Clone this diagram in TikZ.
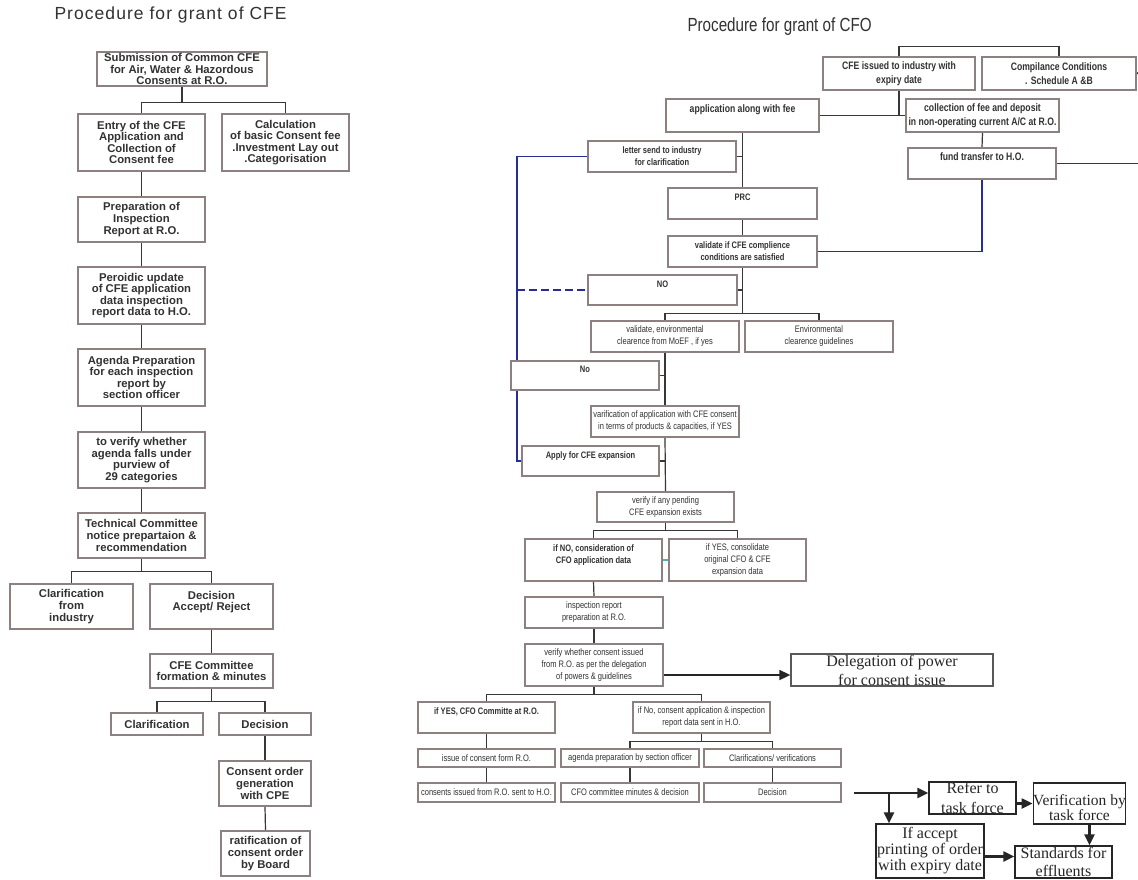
\documentclass[tikz,border=0pt]{standalone}
\usepackage{fontspec}
\setmainfont{Liberation Sans}
\newfontfamily\narrowfont[FakeStretch=0.8]{Liberation Sans}
\newfontfamily\spacedfont[LetterSpace=6]{Liberation Sans}
\newfontfamily\serifboxfont{Liberation Serif}
\usetikzlibrary{arrows.meta,backgrounds}
\definecolor{boxgray}{RGB}{140,128,128}
\definecolor{txtgray}{RGB}{50,50,50}
\definecolor{linkgray}{RGB}{55,55,55}
\definecolor{navy}{RGB}{40,45,145}
\definecolor{tealline}{RGB}{70,180,190}

\begin{document}
\begin{tikzpicture}[x=1pt, y=-1pt,
        cfebox/.style={draw=boxgray, line width=1.3pt, fill=white, text=txtgray, align=center, inner sep=0pt, font=\bfseries\fontsize{11.3}{11.6}\selectfont},
        cfobox/.style={draw=boxgray, line width=1.2pt, fill=white, text=txtgray, align=center, inner sep=0pt, font=\narrowfont\fontsize{9.4}{12}\selectfont},
        cfobold/.style={cfobox, font=\narrowfont\bfseries\fontsize{9.4}{12}\selectfont},
        cfotop/.style={cfobox, font=\narrowfont\bfseries\fontsize{10.8}{14}\selectfont},
        taskbox/.style={draw=black!85, line width=1.3pt, fill=white, text=black!85, align=center, inner sep=0pt, font=\serifboxfont\fontsize{16}{16}\selectfont},
        link/.style={draw=linkgray, line width=1.2pt},
        bluelink/.style={draw=navy, line width=1.8pt},
        bigarrow/.style={draw=black!85, line width=2.2pt, -{Triangle[length=11pt,width=10pt]}},
    ]
        \useasboundingbox (0,0) rectangle (1138,879);

        % CFE side
        \node[anchor=west, text=txtgray, font=\spacedfont\fontsize{17.5}{20}\selectfont] (cfetitle) at (51,15) {Procedure for grant of CFE};
        \node[cfebox, minimum width=170, minimum height=34] (submit) at (182,69) {Submission of Common CFE\\for Air, Water \& Hazordous\\Consents at R.O.};
        \node[cfebox, minimum width=127, minimum height=57] (entry) at (141.5,142.5) {Entry of the CFE\\Application and\\Collection of\\Consent fee};
        \node[cfebox, minimum width=127, minimum height=57] (calc) at (285.5,142.5) {Calculation\\of basic Consent fee\\.Investment Lay out\\.Categorisation};
        \node[cfebox, minimum width=127, minimum height=45] (prep) at (141.5,219.5) {Preparation of\\Inspection\\Report at R.O.};
        \node[cfebox, minimum width=127, minimum height=57] (update) at (141.5,295.5) {Peroidic update\\of CFE application\\data inspection\\report data to H.O.};
        \node[cfebox, minimum width=127, minimum height=57] (agenda) at (141.5,377.5) {Agenda Preparation\\for each inspection\\report by\\section officer};
        \node[cfebox, minimum width=127, minimum height=56] (verify) at (141.5,460) {to verify whether\\agenda falls under\\purview of\\29 categories};
        \node[cfebox, minimum width=127, minimum height=45] (techcom) at (141.5,535.5) {Technical Committee\\notice prepartaion \&\\recommendation};
        \node[cfebox, minimum width=123, minimum height=45] (clarind) at (71.5,606.5) {Clarification\\from\\industry};
        \node[cfebox, minimum width=123, minimum height=45] (decision) at (211.5,606.5) {Decision\\Accept/ Reject\\\phantom{X}};
        \node[cfebox, minimum width=123, minimum height=34] (cfecom) at (211.5,671) {CFE Committee\\formation \& minutes};
        \node[cfebox, minimum width=92, minimum height=22] (clarif) at (157,724) {Clarification};
        \node[cfebox, minimum width=92, minimum height=22] (decide) at (265,724) {Decision};
        \node[cfebox, minimum width=92, minimum height=45] (order) at (265,783.5) {Consent order\\generation\\with CPE};
        \node[cfebox, minimum width=89, minimum height=45] (ratify) at (265.5,853.5) {ratification of\\consent order\\by Board};

        % CFO side
        \node[anchor=west, text=txtgray, font=\narrowfont\fontsize{19}{22}\selectfont] (cfotitle) at (684,27) {Procedure for grant of CFO};
        \node[cfotop, minimum width=152, minimum height=33] (issued) at (899,73.5) {CFE issued to industry with\\expiry date};
        \node[cfotop, minimum width=154, minimum height=33] (comply) at (1059,73.5) {Compilance Conditions\\. Schedule A \&B};
        \node[cfotop, minimum width=153, minimum height=33] (appfee) at (742.5,115.5) {application along with fee\\\phantom{X}};
        \node[cfotop, minimum width=153, minimum height=33] (collect) at (982.5,115.5) {collection of fee and deposit\\in non-operating current A/C at R.O.};
        \node[cfotop, minimum width=148, minimum height=31] (fund) at (982,163.5) {fund transfer to H.O.\\\phantom{X}};
        \node[cfobold, minimum width=148, minimum height=31] (letter) at (662,156.5) {letter send to industry\\for clarification};
        \node[cfobold, minimum width=149, minimum height=31] (prc) at (742.5,203.5) {PRC\\\phantom{X}};
        \node[cfobold, minimum width=149, minimum height=31] (valcfe) at (742.5,251.5) {validate if CFE complience\\conditions are satisfied};
        \node[cfobold, minimum width=149, minimum height=30] (no1) at (662.5,290) {NO\\\phantom{X}};
        \node[cfobox, minimum width=148, minimum height=31] (valenv) at (665,336.5) {validate, environmental\\clearence from MoEF , if yes};
        \node[cfobox, minimum width=148, minimum height=31] (envguide) at (819,336.5) {Environmental\\clearence guidelines};
        \node[cfobold, minimum width=148, minimum height=29] (no2) at (585,375.5) {No\\\phantom{X}};
        \node[cfobox, minimum width=148, minimum height=31] (varif) at (665,421.5) {varification of application with CFE consent\\in terms of products \& capacities, if YES};
        \node[cfobold, minimum width=137, minimum height=30] (apply) at (590.5,461) {Apply for CFE expansion\\\phantom{X}};
        \node[cfobox, minimum width=137, minimum height=30] (pending) at (665.5,507) {verify if any pending\\CFE expansion exists};
        \node[cfobold, minimum width=137, minimum height=42] (ifno) at (593.5,560) {if NO, consideration of\\CFO application data\\\phantom{X}};
        \node[cfobox, minimum width=137, minimum height=42] (ifyes) at (737.5,560) {if YES, consolidate\\original CFO \& CFE\\expansion data};
        \node[cfobox, minimum width=138, minimum height=31] (inspect) at (594,612.5) {inspection report\\preparation at R.O.};
        \node[cfobox, minimum width=138, minimum height=42] (whether) at (594,665) {verify whether consent issued\\from R.O. as per the delegation\\of powers \& guidelines};
        \node[taskbox, draw=black!65, minimum width=202, minimum height=32, font=\serifboxfont\fontsize{16}{19}\selectfont] (deleg) at (892,670) {Delegation of power\\for consent issue};
        \node[cfobold, minimum width=137, minimum height=31] (cfocom) at (486.5,717.5) {if YES, CFO Committe at R.O.\\\phantom{X}};
        \node[cfobox, minimum width=137, minimum height=31] (tohq) at (701.5,717.5) {if No, consent application \& inspection\\report data sent in H.O.};
        \node[cfobox, minimum width=137, minimum height=18] (issue) at (486.5,758) {issue of consent form R.O.};
        \node[cfobox, minimum width=138, minimum height=18] (agendaho) at (630,758) {agenda preparation by section officer};
        \node[cfobox, minimum width=137, minimum height=18] (clarver) at (772.5,758) {Clarifications/ verifications};
        \node[cfobox, minimum width=137, minimum height=19] (issuedho) at (486.5,792.5) {consents issued from R.O. sent to H.O.};
        \node[cfobox, minimum width=138, minimum height=19] (minutes) at (630,792.5) {CFO committee minutes \& decision};
        \node[cfobox, minimum width=137, minimum height=19] (decfinal) at (772.5,792.5) {Decision};

        % task force
        \node[taskbox, minimum width=87, minimum height=32, font=\serifboxfont\fontsize{16}{20}\selectfont] (refer) at (972.5,798) {Refer to\\task force};
        \node[taskbox, minimum width=87, minimum height=41, font=\serifboxfont\fontsize{15.5}{12.5}\selectfont] (verif) at (1079.5,803.5) {\phantom{x}\\Verification by\\task force};
        \node[taskbox, minimum width=108, minimum height=54] (accept) at (930,851) {If accept\\printing of order\\with expiry date};
        \node[taskbox, minimum width=97, minimum height=32, font=\serifboxfont\fontsize{16}{18}\selectfont] (stand) at (1063.5,862) {Standards for\\effluents};

        \coordinate (bluebend) at (517,0);
        \coordinate (rimtop) at (1138,73);
        \coordinate (taskin) at (854,793);
        \coordinate (tasksplit) at (889,793);

        \begin{pgfonlayer}{background}
        \fill[white] (0,0) rectangle (1138,879);
        \draw[link] (submit.south) -- ++(0,16) -| (entry.north);
        \draw[link] (submit.south) -- ++(0,16) -| (calc.north);
        \draw[link] (entry.south) -- (prep.north);
        \draw[link] (prep.south) -- (update.north);
        \draw[link] (update.south) -- (agenda.north);
        \draw[link] (agenda.south) -- (verify.north);
        \draw[link] (verify.south) -- (techcom.north);
        \draw[link] (techcom.south) -- ++(0,13) -| (clarind.north);
        \draw[link] (techcom.south) -- ++(0,13) -| (decision.north);
        \draw[link] (decision.south) -- (cfecom.north);
        \draw[link] (cfecom.south) -- ++(0,13) -| (clarif.north);
        \draw[link] (cfecom.south) -- ++(0,13) -| (decide.north);
        \draw[link] (decide.south) -- (order.north);
        \draw[link] (order.south) -- (ratify.north);

        \draw[link] (issued.north) -- ++(0,-10) -| (comply.north);
        \draw[link] (issued.south) -- (issued.south |- appfee.east);
        \draw[link] (appfee.east) -- (collect.west);
        \draw[link] (collect.south) -- (fund.north);
        \draw[link] (appfee.south) -- (prc.north);
        \draw[link] (letter.east) -- (letter.east -| appfee.south);
        \draw[link] (prc.south) -- (valcfe.north);
        \draw[link] (valcfe.south) -- ++(0,46) -| (valenv.north);
        \draw[link] (valcfe.south) -- ++(0,46) -| (envguide.north);
        \draw[link] (no1.east) -- (no1.east -| valcfe.south);
        \draw[link] (valenv.south) -- (varif.north);
        \draw[link] (no2.east) -- (no2.east -| valenv.south);
        \draw[link] (varif.south) -- (pending.north);
        \draw[link] (apply.east) -- (apply.east -| varif.south);
        \draw[link] (pending.south) -- ++(0,8) -| (ifno.north);
        \draw[link] (pending.south) -- ++(0,8) -| (ifyes.north);
        \draw[draw=tealline, line width=1.2pt] (ifno.east) -- (ifyes.west);
        \draw[link] (ifno.south) -- (inspect.north);
        \draw[link] (inspect.south) -- (whether.north);
        \draw[link] (whether.south) -- ++(0,8) -| (cfocom.north);
        \draw[link] (whether.south) -- ++(0,8) -| (tohq.north);
        \draw[link] (cfocom.south) -- (issue.north);
        \draw[link] (issue.south) -- (issuedho.north);
        \draw[link] (tohq.south) -- ++(0,8) -| (agendaho.north);
        \draw[link] (tohq.south) -- ++(0,8) -| (clarver.north);
        \draw[link] (agendaho.south) -- (minutes.north);
        \draw[link] (clarver.south) -- (decfinal.north);

        \draw[bluelink] (letter.west) -- (letter.west -| bluebend) |- (apply.west);
        \draw[bluelink, dash pattern=on 8pt off 4pt] (no1.west -| bluebend) -- (no1.west);
        \draw[bluelink] (fund.south) |- (valcfe.east);
        \draw[bluelink] (comply.east) -- (rimtop);
        \draw[bluelink] (fund.east) -- (fund.east -| rimtop);

        \draw[bigarrow, line width=1.6pt] ([yshift=-10pt]whether.east) -- ([yshift=-5pt]deleg.west);
        \draw[bigarrow] (taskin) -- (taskin -| refer.west);
        \draw[bigarrow] (tasksplit) -- (tasksplit |- accept.north);
        \draw[bigarrow] (refer.east |- verif.west) -- (verif.west);
        \draw[bigarrow] ([xshift=10pt]verif.south) -- ([xshift=10pt]verif.south |- stand.north);
        \draw[bigarrow] ([yshift=-5.5pt]accept.east) -- ([yshift=5.5pt]stand.west);
        \end{pgfonlayer}
\end{tikzpicture}
\end{document}
